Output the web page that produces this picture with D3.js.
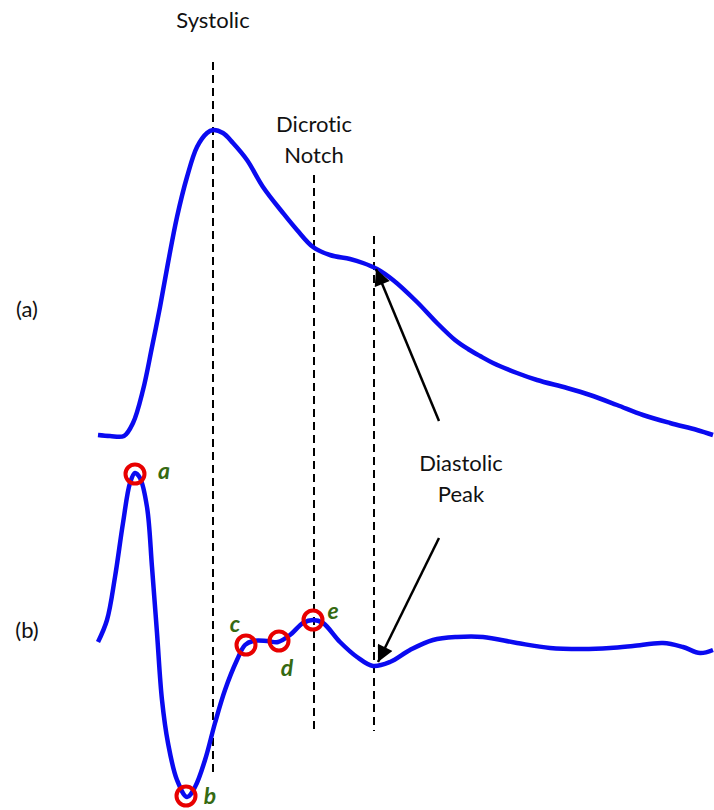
<!DOCTYPE html>
<html>
<head>
<meta charset="utf-8">
<script src="https://cdn.jsdelivr.net/npm/d3@7/dist/d3.min.js"></script>
<style>
  html, body { margin: 0; padding: 0; background: #fff; }
  svg { display: block; }
  text { font-family: Lato, "Open Sans", sans-serif; font-variant-ligatures: none; }
</style>
</head>
<body>
<div id="chart"></div>
<script>
// ---- Data (sample index, arbitrary amplitude units) ----
// (a) PPG waveform
const ppgT = [0, 12, 26, 35, 45, 54, 62, 70, 79, 89, 99, 109, 115, 125, 135, 149, 165, 185, 199, 215, 232, 252, 265, 279, 295, 319, 339, 357, 370, 382, 395, 419, 439, 469, 492, 519, 545, 572, 599, 615];
const ppgV = [1, 0, 0, 13, 46, 89, 129, 173, 219, 259, 289, 303, 306, 303, 293, 276, 249, 223, 206, 189, 181, 177, 173, 167, 156, 134, 113, 96, 87, 80, 73, 63, 56, 48, 41, 31, 21, 13, 6, 1];
// (b) second derivative (APG)
const apgT = [0, 9, 17, 25, 32, 37, 42, 49, 54, 59, 64, 70, 79, 89, 97, 107, 117, 127, 139, 147, 155, 169, 180, 192, 205, 215, 225, 242, 259, 275, 292, 312, 335, 359, 385, 419, 452, 485, 512, 535, 565, 585, 602, 615];
const apgV = [-1, 21, 64, 118, 158, 168, 163, 134, 74, 8, -59, -102, -139, -156, -146, -119, -82, -49, -19, -4, 0, 0, -1, 6, 18, 21, 18, -1, -16, -25, -21, -9, 1, 4, 4, -2, -7, -8, -7, -5, -2, -6, -12, -9];
// Feature points on (b)
const pointNames = ["a", "b", "c", "d", "e"];
const pointT = [37, 88, 148, 181, 215];
const pointV = [167, -155, -4, 0, 21];
// Vertical markers (sample index)
const markerNames = ["Systolic", "Dicrotic Notch", "Diastolic Peak"];
const markerT = [115, 216, 276];
const panelLabels = ["(a)", "(b)"];

// ---- Layout ----
const W = 714, H = 810;
const svg = d3.select("#chart").append("svg").attr("width", W).attr("height", H);

const x = d3.scaleLinear().domain([0, 616]).range([98, 714]);
const yA = d3.scaleLinear().domain([0, 306]).range([436, 130]);
const yB = d3.scaleLinear().domain([-156, 168]).range([797, 473]);

// dashed vertical markers
const markerY = [[62, 775], [175, 730], [236, 731]];
svg.selectAll("line.marker").data(markerT).enter().append("line")
  .attr("class", "marker")
  .attr("x1", d => x(d)).attr("x2", d => x(d))
  .attr("y1", (d, i) => markerY[i][0]).attr("y2", (d, i) => markerY[i][1])
  .attr("stroke", "#000").attr("stroke-width", 2)
  .attr("stroke-dasharray", "8,5");

const line = (ys) => d3.line().x(d => x(d[0])).y(d => ys(d[1])).curve(d3.curveCatmullRom.alpha(0.5));

svg.append("path")
  .datum(ppgT.map((t, i) => [t, ppgV[i]]))
  .attr("d", line(yA))
  .attr("fill", "none").attr("stroke", "#0a0af0").attr("stroke-width", 4.5)
  .attr("stroke-linejoin", "round");

svg.append("path")
  .datum(apgT.map((t, i) => [t, apgV[i]]))
  .attr("d", line(yB))
  .attr("fill", "none").attr("stroke", "#0a0af0").attr("stroke-width", 4.5)
  .attr("stroke-linejoin", "round");

// feature circles
svg.selectAll("circle.pt").data(pointT).enter().append("circle")
  .attr("class", "pt")
  .attr("cx", d => x(d)).attr("cy", (d, i) => yB(pointV[i]))
  .attr("r", 9.5)
  .attr("fill", "none").attr("stroke", "#e80000").attr("stroke-width", 4);

// feature labels
const labelOff = [[29, -4], [24, -1], [-11, -22], [8, 26], [20, -10]];
svg.selectAll("text.pt").data(pointNames).enter().append("text")
  .attr("class", "pt")
  .attr("x", (d, i) => x(pointT[i]) + labelOff[i][0])
  .attr("y", (d, i) => yB(pointV[i]) + labelOff[i][1])
  .attr("text-anchor", "middle").attr("dominant-baseline", "central")
  .attr("font-size", 23).attr("font-weight", "bold").attr("font-style", "italic")
  .attr("fill", "#356a12")
  .text(d => d);

// text annotations
const txt = (s, tx, ty) => svg.append("text")
  .attr("x", tx).attr("y", ty)
  .attr("text-anchor", "middle").attr("dominant-baseline", "central")
  .attr("font-size", 22).attr("fill", "#111").text(s);

txt(markerNames[0], x(markerT[0]), 19);
txt("Dicrotic", x(markerT[1]), 123);
txt("Notch", x(markerT[1]), 154);
txt("Diastolic", 461, 462);
txt("Peak", 461, 493);
txt(panelLabels[0], 27, 308);
txt(panelLabels[1], 27, 629);

// arrows
const defs = svg.append("defs");
defs.append("marker").attr("id", "ah")
  .attr("viewBox", "0 0 10 10").attr("refX", 10).attr("refY", 5)
  .attr("markerWidth", 7).attr("markerHeight", 6.5).attr("markerUnits", "strokeWidth")
  .attr("orient", "auto")
  .append("path").attr("d", "M0,0 L10,5 L0,10 Z").attr("fill", "#000");

const arrows = [
  { from: [439, 421], toT: 278, toV: 167, ys: yA },
  { from: [439, 538], toT: 280, toV: -21, ys: yB }
];
svg.selectAll("line.arrow").data(arrows).enter().append("line")
  .attr("class", "arrow")
  .attr("x1", d => d.from[0]).attr("y1", d => d.from[1])
  .attr("x2", d => x(d.toT)).attr("y2", d => d.ys(d.toV))
  .attr("stroke", "#000").attr("stroke-width", 2.5)
  .attr("marker-end", "url(#ah)");
</script>
</body>
</html>
